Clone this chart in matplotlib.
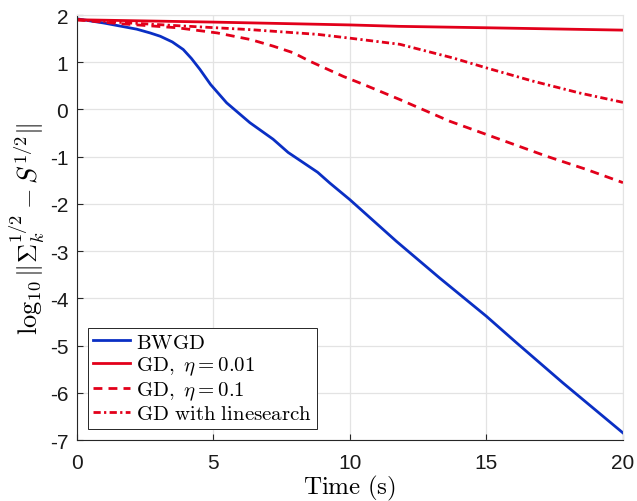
import matplotlib
matplotlib.use('Agg')
import matplotlib.pyplot as plt

# values
bwgd_t = [0, 1.0, 2.2, 2.69, 3.06, 3.5, 3.9, 4.2, 4.51, 4.9, 5.49, 6.34, 7.19, 7.74, 8.82, 9.27, 10.0,
          11.7, 13.29, 15.0, 16.1, 17.8, 20.0]
bwgd_y = [1.92, 1.83, 1.70, 1.62, 1.55, 1.43, 1.27, 1.08, 0.85, 0.53, 0.14, -0.28, -0.63, -0.91, -1.33, -1.56, -1.91,
          -2.79, -3.57, -4.38, -4.94, -5.79, -6.85]

gd001_t = [0, 5, 10, 11.8, 15, 20]
gd001_y = [1.90, 1.85, 1.79, 1.76, 1.73, 1.68]

gd01_t = [0, 1.5, 3.68, 5.15, 6.37, 7.2, 7.93, 8.54, 9.76, 10.5, 11.83, 13.66, 15.0, 17.2, 18.66, 20.0]
gd01_y = [1.90, 1.82, 1.73, 1.62, 1.48, 1.34, 1.20, 1.02, 0.70, 0.53, 0.21, -0.25, -0.53, -0.99, -1.27, -1.55]

gdls_t = [0, 2.0, 3.5, 6.37, 8.82, 10.0, 11.83, 13.78, 15.0, 16.7, 18.4, 20.0]
gdls_y = [1.90, 1.83, 1.78, 1.69, 1.59, 1.51, 1.38, 1.09, 0.88, 0.60, 0.35, 0.15]

BLUE = '#0a2fc4'
RED = '#e2001a'
GRID = '#e3e3e3'

plt.rcParams['font.family'] = ['Liberation Sans', 'DejaVu Sans']
plt.rcParams['mathtext.fontset'] = 'cm'

fig = plt.figure(figsize=(6.37, 5.02), dpi=100)
ax = fig.add_axes([0.1204, 0.1215, 0.8576, 0.8466])

LW = 2.0
ax.plot(bwgd_t, bwgd_y, color=BLUE, linewidth=LW, label=r'$\mathrm{BWGD}$')
ax.plot(gd001_t, gd001_y, color=RED, linewidth=LW, label=r'$\mathrm{GD},\ \eta = 0.01$')
ax.plot(gd01_t, gd01_y, color=RED, linewidth=LW, linestyle=(0, (3.2, 2.2)),
        label=r'$\mathrm{GD},\ \eta = 0.1$')
ax.plot(gdls_t, gdls_y, color=RED, linewidth=LW, linestyle=(0, (2.6, 1.2, 0.8, 1.2)),
        label=r'$\mathrm{GD\ with\ linesearch}$')

ax.set_xlim(0, 20)
ax.set_ylim(-7, 2)
ax.set_xticks([0, 5, 10, 15, 20])
ax.set_yticks(range(-7, 3))
ax.grid(True, color=GRID, linewidth=0.9)
ax.set_axisbelow(True)
ax.tick_params(direction='in', labelsize=15, length=4, color='#262626', labelcolor='#1a1a1a')
ax.tick_params(axis='x', pad=9)
ax.tick_params(axis='y', pad=6)
ax.set_yticklabels([str(v) for v in range(-7, 3)])

for s in ['top', 'right']:
    ax.spines[s].set_color(GRID)
for s in ['left', 'bottom']:
    ax.spines[s].set_color('#262626')
    ax.spines[s].set_linewidth(0.8)

ax.set_xlabel(r'$\mathrm{Time\ (s)}$', fontsize=18, labelpad=1)
ax.set_ylabel(r'$\log_{10}\|\Sigma_k^{1/2} - S^{1/2}\|$', fontsize=19, labelpad=2)

leg = ax.legend(loc='lower left', fontsize=15, fancybox=False, framealpha=1,
                edgecolor='#262626', handlelength=1.75, handletextpad=0.3,
                borderpad=0.25, labelspacing=0.12, borderaxespad=0.55)
leg.get_frame().set_linewidth(0.7)

fig.savefig('out.png', dpi=100)
